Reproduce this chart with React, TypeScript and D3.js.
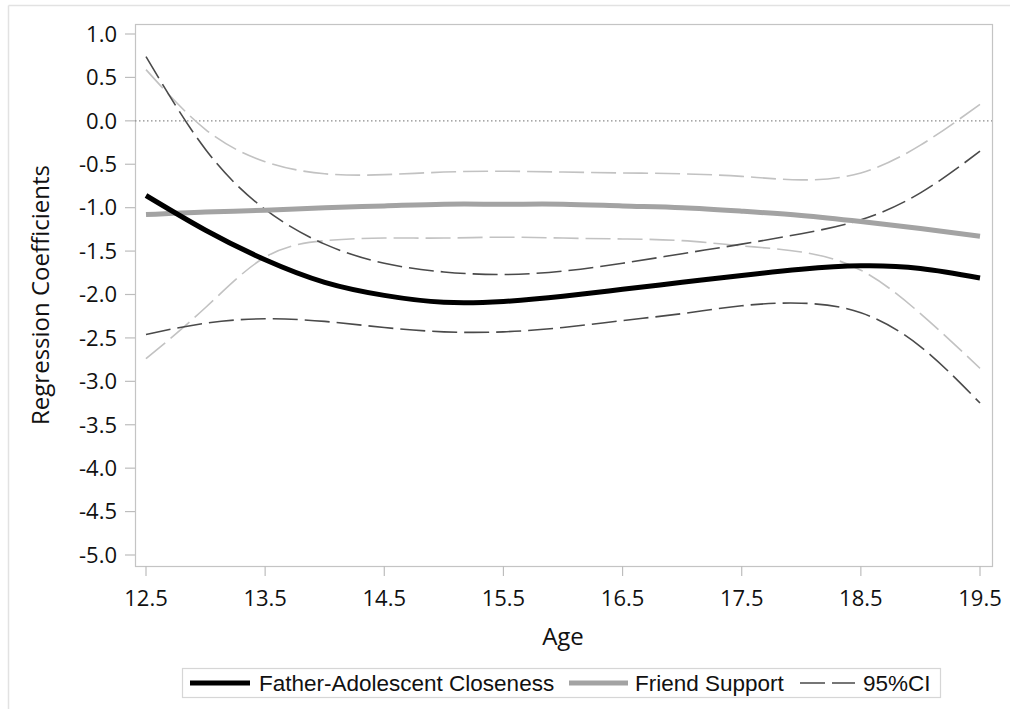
import React from "react";
import * as d3 from "d3";

// Age grid the fitted coefficient curves are evaluated on
const ages = [12.5, 13.0, 13.5, 14.0, 14.5, 15.0, 15.5, 16.0, 16.5, 17.0, 17.5, 18.0, 18.5, 19.0, 19.5];

// Father-adolescent closeness: estimate and 95% CI bounds
const fatherCoef = [-0.86, -1.26, -1.6, -1.86, -2.01, -2.09, -2.08, -2.02, -1.94, -1.86, -1.78, -1.71, -1.67, -1.7, -1.81];
const fatherUpper = [0.74, -0.33, -1.02, -1.42, -1.64, -1.74, -1.77, -1.73, -1.64, -1.53, -1.42, -1.3, -1.14, -0.83, -0.35];
const fatherLower = [-2.46, -2.33, -2.28, -2.31, -2.38, -2.43, -2.43, -2.38, -2.3, -2.22, -2.13, -2.1, -2.21, -2.6, -3.25];

// Friend support: estimate and 95% CI bounds
const friendCoef = [-1.08, -1.05, -1.03, -1.0, -0.98, -0.96, -0.96, -0.96, -0.98, -1.0, -1.04, -1.09, -1.16, -1.24, -1.33];
const friendUpper = [0.59, -0.1, -0.47, -0.61, -0.62, -0.59, -0.58, -0.59, -0.6, -0.61, -0.64, -0.68, -0.6, -0.28, 0.19];
const friendLower = [-2.74, -2.15, -1.57, -1.38, -1.35, -1.35, -1.34, -1.35, -1.36, -1.38, -1.44, -1.51, -1.72, -2.22, -2.85];

const xTicks = [12.5, 13.5, 14.5, 15.5, 16.5, 17.5, 18.5, 19.5];
const yTicks = [1.0, 0.5, 0.0, -0.5, -1.0, -1.5, -2.0, -2.5, -3.0, -3.5, -4.0, -4.5, -5.0];

const legendItems = [
  { label: "Father-Adolescent Closeness", kind: "father" },
  { label: "Friend Support", kind: "friend" },
  { label: "95%CI", kind: "ci" },
];

const W = 1010;
const H = 709;
const plot = { left: 135, top: 24, right: 992, bottom: 566 };

const tickFont = "'Open Sans', 'Noto Sans', sans-serif";
const legendFont = "'Liberation Sans', Arial, sans-serif";

export default function App() {
  const x = d3.scaleLinear().domain([12.5, 19.5]).range([146, 980]);
  const y = d3.scaleLinear().domain([-5, 1]).range([555, 34]);

  const line = (vals: number[]) =>
    d3
      .line<number>()
      .x((_, i) => x(ages[i]))
      .y((v) => y(v))
      .curve(d3.curveNatural)(vals) as string;

  const legendX = [
    { sx0: 190, sx1: 250, tx: 259 },
    { sx0: 569, sx1: 628, tx: 635 },
    { sx0: 800, sx1: 855, tx: 863 },
  ];
  const legendY = 683;

  return (
    <svg
      width={W}
      height={H}
      style={{ position: "absolute", left: 0, top: 0, background: "#fff" }}
    >
      {/* outer frame */}
      <line x1={8.5} y1={5.5} x2={W} y2={5.5} stroke="#e2e2e2" strokeWidth={1.5} />
      <line x1={8.5} y1={5.5} x2={8.5} y2={H} stroke="#e2e2e2" strokeWidth={1.5} />

      {/* plot frame */}
      <rect
        x={plot.left + 0.5}
        y={plot.top + 0.5}
        width={plot.right - plot.left}
        height={plot.bottom - plot.top}
        fill="none"
        stroke="#c4c4c4"
        strokeWidth={1.2}
      />

      {/* y axis ticks and labels */}
      {yTicks.map((t) => (
        <g key={"y" + t}>
          <line x1={125} x2={plot.left} y1={y(t)} y2={y(t)} stroke="#bdbdbd" strokeWidth={1.2} />
          <text
            x={117}
            y={y(t) + 7.8}
            textAnchor="end"
            fontFamily={tickFont}
            fontSize={22}
            fill="#111"
          >
            {t.toFixed(1)}
          </text>
        </g>
      ))}

      {/* x axis ticks and labels */}
      {xTicks.map((t) => (
        <g key={"x" + t}>
          <line x1={x(t)} x2={x(t)} y1={plot.bottom} y2={plot.bottom + 10} stroke="#bdbdbd" strokeWidth={1.2} />
          <text
            x={x(t)}
            y={606}
            textAnchor="middle"
            fontFamily={tickFont}
            fontSize={22}
            fill="#111"
          >
            {t.toFixed(1)}
          </text>
        </g>
      ))}

      {/* axis titles */}
      <text
        x={563}
        y={645}
        textAnchor="middle"
        fontFamily={tickFont}
        fontSize={24}
        fill="#111"
      >
        Age
      </text>
      <text
        transform={`translate(49, ${(plot.top + plot.bottom) / 2}) rotate(-90)`}
        textAnchor="middle"
        fontFamily={tickFont}
        fontSize={24}
        fill="#111"
      >
        Regression Coefficients
      </text>

      {/* zero reference line */}
      <line
        x1={plot.left}
        x2={plot.right}
        y1={y(0)}
        y2={y(0)}
        stroke="#8c8c8c"
        strokeWidth={1.2}
        strokeDasharray="1.5 2.5"
      />

      {/* confidence bands */}
      <path d={line(friendUpper)} fill="none" stroke="#c2c2c2" strokeWidth={1.6} strokeDasharray="25 7" />
      <path d={line(friendLower)} fill="none" stroke="#c2c2c2" strokeWidth={1.6} strokeDasharray="25 7" />
      <path d={line(fatherUpper)} fill="none" stroke="#4a4a4a" strokeWidth={1.6} strokeDasharray="25 7" />
      <path d={line(fatherLower)} fill="none" stroke="#4a4a4a" strokeWidth={1.6} strokeDasharray="25 7" />

      {/* coefficient curves */}
      <path d={line(friendCoef)} fill="none" stroke="#a3a3a3" strokeWidth={5} />
      <path d={line(fatherCoef)} fill="none" stroke="#000" strokeWidth={5} />

      {/* legend */}
      <rect x={182.5} y={668.5} width={758} height={29} fill="#fff" stroke="#d6d6d6" strokeWidth={1.2} />
      {legendItems.map((item, i) => {
        const p = legendX[i];
        const stroke = item.kind === "father" ? "#000" : item.kind === "friend" ? "#a3a3a3" : "#4a4a4a";
        const sw = item.kind === "ci" ? 1.6 : 5;
        return (
          <g key={item.label}>
            <line
              x1={p.sx0}
              x2={p.sx1}
              y1={legendY}
              y2={legendY}
              stroke={stroke}
              strokeWidth={sw}
              strokeDasharray={item.kind === "ci" ? "25 7" : undefined}
            />
            <text x={p.tx} y={legendY + 8} fontFamily={legendFont} fontSize={22.5} fill="#111">
              {item.label}
            </text>
          </g>
        );
      })}
    </svg>
  );
}
